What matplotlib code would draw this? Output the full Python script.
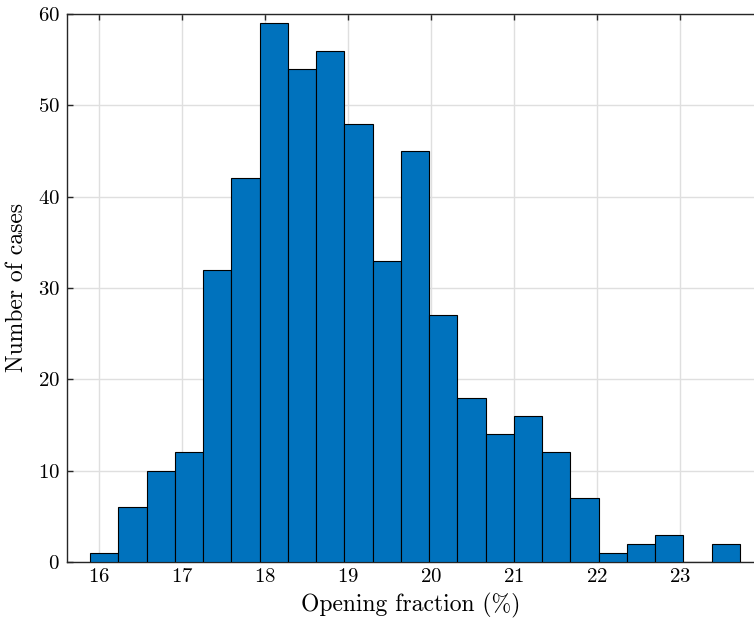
import numpy as np
import matplotlib
matplotlib.use("Agg")
import matplotlib.pyplot as plt

# histogram counts
counts = [1, 6, 10, 12, 32, 42, 59, 54, 56, 48, 33, 45, 27, 18, 14, 16, 12, 7, 1, 2, 3, 0, 2]
bin_start = 15.892
bin_width = 0.3404
x_ticks = [16, 17, 18, 19, 20, 21, 22, 23]
y_ticks = [0, 10, 20, 30, 40, 50, 60]

plt.rcParams['font.family'] = ['cmr10', 'DejaVu Serif']
plt.rcParams['axes.formatter.use_mathtext'] = True
plt.rcParams['mathtext.fontset'] = 'cm'

c_axis = "#262626"
c_bar = "#0072BD"

fig = plt.figure(figsize=(7.54, 6.26), dpi=100)
ax = fig.add_axes([67 / 754, 64 / 626, 1 - 67 / 754, 548 / 626])

lefts = bin_start + bin_width * np.arange(len(counts))
ax.bar(lefts, counts, width=bin_width, align='edge', color=c_bar,
       edgecolor='black', linewidth=0.8, zorder=3)

ax.set_xlim(15.615, 23.89)
ax.set_ylim(0, 60)
ax.set_xticks(x_ticks)
ax.set_yticks(y_ticks)
ax.grid(True, color='#dfdfdf', linewidth=1.0, zorder=0)
ax.set_axisbelow(True)

for s in ['left', 'top', 'bottom']:
    ax.spines[s].set_color(c_axis)
    ax.spines[s].set_linewidth(1.0)
ax.spines['right'].set_visible(False)
ax.tick_params(axis='both', direction='in', length=4, width=1.0,
               colors=c_axis, labelcolor='black', labelsize=15,
               top=True, right=False)
ax.tick_params(axis='x', pad=4)
ax.tick_params(axis='y', pad=5)

ax.set_xlabel("Opening fraction (%)", fontsize=17, labelpad=5)
ax.set_ylabel("Number of cases", fontsize=17, labelpad=7)

fig.savefig("out.png", dpi=100)
